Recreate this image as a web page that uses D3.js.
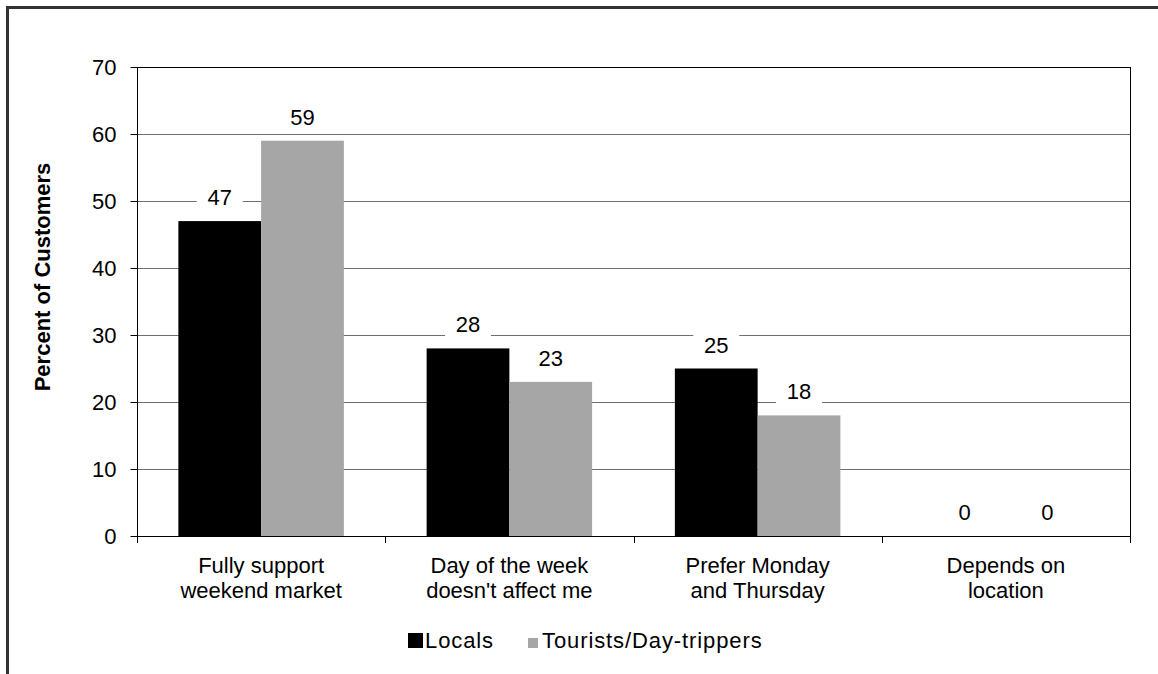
<!DOCTYPE html>
<html>
<head>
<meta charset="utf-8">
<script src="https://cdn.jsdelivr.net/npm/d3@7/dist/d3.min.js"></script>
<style>
  body { margin: 0; background: #fff; }
  svg { display: block; font-family: "Liberation Sans", Arial, sans-serif; }
</style>
</head>
<body>
<svg id="chart" width="1158" height="674"></svg>
<script>
const categories = ["Fully support weekend market", "Day of the week doesn't affect me", "Prefer Monday and Thursday", "Depends on location"]
const categoryLines = [["Fully support", "weekend market"], ["Day of the week", "doesn't affect me"], ["Prefer Monday", "and Thursday"], ["Depends on", "location"]]
const seriesNames = ["Locals", "Tourists/Day-trippers"]
const locals = [47, 28, 25, 0]
const tourists = [59, 23, 18, 0]
const yTicks = [0, 10, 20, 30, 40, 50, 60, 70]

const seriesColors = ["#000000", "#a6a6a6"]
const values = [locals, tourists]

const plotLeft = 137, plotRight = 1130, plotTop = 67, plotBottom = 536
const fontSize = 22

const svg = d3.select("#chart")

// outer frame (only top and left edges show in the picture)
svg.append("path")
  .attr("d", "M7.5,674 V7.5 H1158")
  .attr("fill", "none")
  .attr("stroke", "#333")
  .attr("stroke-width", 3)

const x0 = d3.scaleBand().domain(categories).range([plotLeft, plotRight]).padding(0)
const x1 = d3.scaleBand().domain(seriesNames).range([0, x0.bandwidth()]).paddingInner(0).paddingOuter(0.5)
const y = d3.scaleLinear().domain([0, 70]).range([plotBottom, plotTop])

// gridlines
svg.append("g")
  .selectAll("line")
  .data(yTicks.filter(t => t > 0))
  .join("line")
  .attr("x1", plotLeft).attr("x2", plotRight)
  .attr("y1", d => Math.round(y(d)) + 0.5).attr("y2", d => Math.round(y(d)) + 0.5)
  .attr("stroke", d => d === 70 ? "#000" : "#6e6e6e")
  .attr("stroke-width", 1)

// right border of plot
svg.append("line")
  .attr("x1", plotRight + 0.5).attr("x2", plotRight + 0.5)
  .attr("y1", plotTop).attr("y2", plotBottom)
  .attr("stroke", "#000")

// bars
const groups = svg.append("g")
  .selectAll("g")
  .data(categories)
  .join("g")
  .attr("transform", d => `translate(${x0(d)},0)`)

groups.selectAll("rect")
  .data((d, i) => seriesNames.map((s, j) => ({ s, v: values[j][i], j })))
  .join("rect")
  .attr("x", d => x1(d.s))
  .attr("width", x1.bandwidth())
  .attr("y", d => y(d.v))
  .attr("height", d => plotBottom - y(d.v))
  .attr("fill", d => seriesColors[d.j])

// data labels with white background
const labels = groups.selectAll("g.lbl")
  .data((d, i) => seriesNames.map((s, j) => ({ s, v: values[j][i] })))
  .join("g")
  .attr("class", "lbl")
  .attr("transform", d => `translate(${x1(d.s) + x1.bandwidth() / 2},${y(d.v) - 16})`)

labels.append("rect")
  .attr("x", -23).attr("y", -20)
  .attr("width", 46).attr("height", 25)
  .attr("fill", "#fff")

labels.append("text")
  .attr("text-anchor", "middle")
  .attr("font-size", fontSize)
  .attr("fill", "#000")
  .text(d => d.v)

// y axis
const yAxis = svg.append("g")
  .attr("transform", `translate(${plotLeft + 0.5},0)`)
  .call(d3.axisLeft(y).tickValues(yTicks).tickSize(7).tickPadding(14).tickSizeOuter(0))
yAxis.select(".domain").attr("stroke", "#000").attr("d", `M0,${plotTop}V${plotBottom + 7}`)
yAxis.selectAll("text").attr("font-size", fontSize).attr("font-family", "Liberation Sans, Arial, sans-serif").attr("fill", "#000").attr("dy", "0.35em")
yAxis.selectAll("line").attr("stroke", "#000")

// x axis baseline and ticks at category boundaries
const xAxis = svg.append("g")
xAxis.append("line")
  .attr("x1", plotLeft).attr("x2", plotRight + 1)
  .attr("y1", plotBottom + 0.5).attr("y2", plotBottom + 0.5)
  .attr("stroke", "#000")
xAxis.selectAll("line.tick")
  .data(categories.map(c => x0(c) + x0.bandwidth()))
  .join("line")
  .attr("class", "tick")
  .attr("x1", d => Math.round(d) + 0.5).attr("x2", d => Math.round(d) + 0.5)
  .attr("y1", plotBottom).attr("y2", plotBottom + 7)
  .attr("stroke", "#000")

// category labels
svg.append("g")
  .selectAll("text")
  .data(categories)
  .join("text")
  .attr("text-anchor", "middle")
  .attr("font-size", fontSize)
  .attr("fill", "#000")
  .attr("x", d => x0(d) + x0.bandwidth() / 2)
  .attr("y", 573)
  .selectAll("tspan")
  .data((d, i) => categoryLines[i])
  .join("tspan")
  .attr("x", function () { return this.parentNode.getAttribute("x") })
  .attr("dy", (d, i) => i === 0 ? 0 : 25)
  .text(d => d)

// y axis title
svg.append("text")
  .attr("transform", "translate(50,277) rotate(-90)")
  .attr("text-anchor", "middle")
  .attr("font-size", 22)
  .attr("font-weight", "bold")
  .attr("fill", "#000")
  .text("Percent of Customers")

// legend
const legend = svg.append("g")
const legendItems = [
  { name: seriesNames[0], color: seriesColors[0], sx: 408, size: 15, tx: 425 },
  { name: seriesNames[1], color: seriesColors[1], sx: 528, size: 10, tx: 542 }
]
legend.selectAll("rect")
  .data(legendItems)
  .join("rect")
  .attr("x", d => d.sx)
  .attr("y", d => 648 - d.size)
  .attr("width", d => d.size)
  .attr("height", d => d.size)
  .attr("fill", d => d.color)
legend.selectAll("text")
  .data(legendItems)
  .join("text")
  .attr("x", d => d.tx)
  .attr("y", 648)
  .attr("font-size", fontSize)
  .attr("letter-spacing", 0.9)
  .attr("fill", "#000")
  .text(d => d.name)
</script>
</body>
</html>
